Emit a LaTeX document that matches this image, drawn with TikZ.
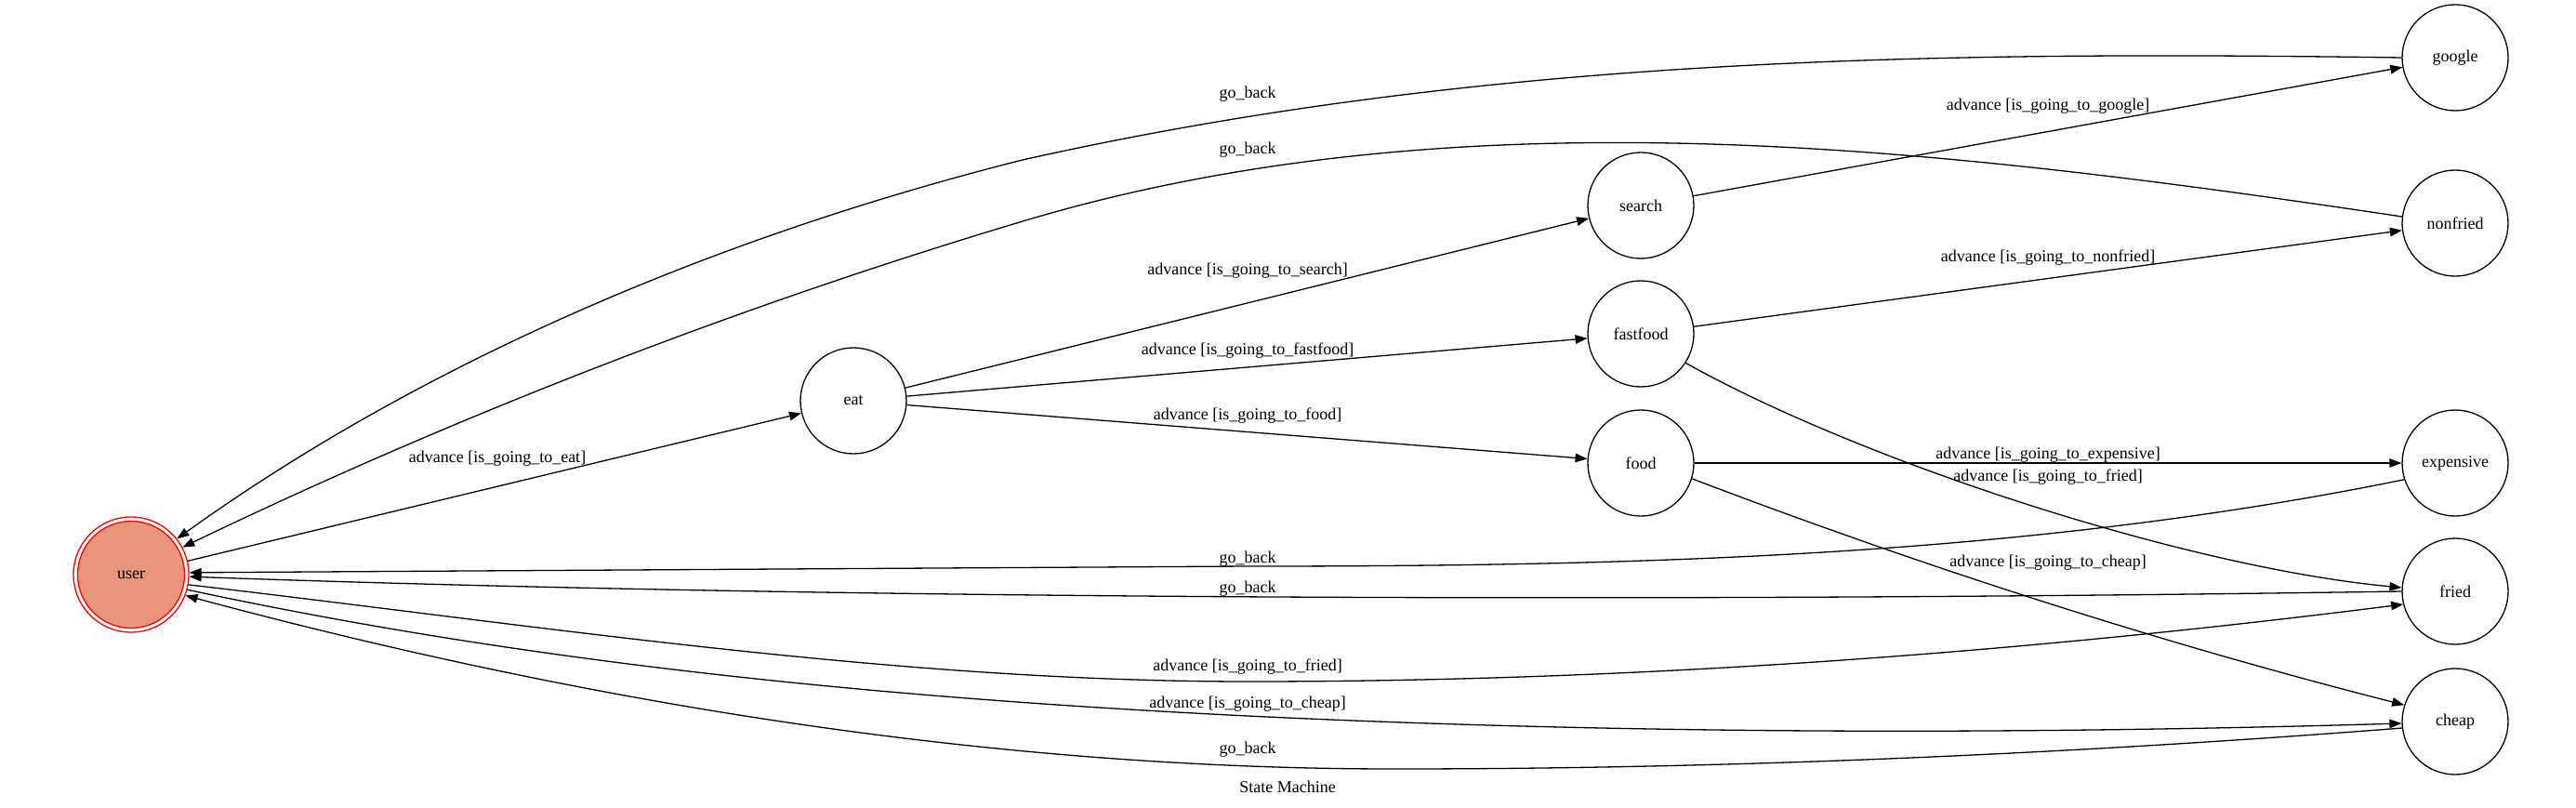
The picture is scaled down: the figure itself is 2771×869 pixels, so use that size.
\documentclass[tikz,border=0pt]{standalone}
\usepackage{fontspec}
\setmainfont{Liberation Serif}
\usetikzlibrary{arrows.meta}
\definecolor{usersalmon}{RGB}{233,150,122}
\begin{document}
\begin{tikzpicture}[x=1pt,y=-1pt,
  state/.style={circle, draw, line width=1.3pt, minimum size=114pt, inner sep=0pt, font=\fontsize{18}{20}\selectfont},
  edge/.style={line width=1.3pt, -{Triangle[length=13pt,width=9.5pt]}},
  lbl/.style={inner sep=0pt, text height=12.2pt, text depth=3.6pt, font=\fontsize{18}{20}\selectfont}]
\useasboundingbox (0,0) rectangle (2771,869);

% nodes
\node[state, draw=red, fill=usersalmon, minimum size=115pt] (userin) at (141,618) {user};
\node[circle, draw=red, line width=1.3pt, minimum size=124pt, inner sep=0pt] (user) at (141,618) {};
\node[state] (eat) at (918,431) {eat};
\node[state] (search) at (1765,221) {search};
\node[state] (fastfood) at (1765,359) {fastfood};
\node[state] (food) at (1765,498) {food};
\node[state] (google) at (2641,62) {google};
\node[state] (nonfried) at (2641,240) {nonfried};
\node[state] (expensive) at (2641,498) {expensive};
\node[state] (fried) at (2641,636) {fried};
\node[state] (cheap) at (2641,776) {cheap};

% straight advance edges
\draw[edge] (user) -- (eat);
\draw[edge] (eat) -- (search);
\draw[edge] (eat) -- (fastfood);
\draw[edge] (eat) -- (food);
\draw[edge] (search) -- (google);
\draw[edge] (fastfood) -- (nonfried);
\draw[edge] (food) -- (expensive);
\draw[edge] (fastfood.-33) .. controls (2000,495) and (2350,610) .. (fried.176);
\draw[edge] (food.-17.5) .. controls (2070,610) and (2326,692) .. (cheap.162.5);

% go_back edges
\draw[edge] (google.west) .. controls (2086,55) and (1600,60) .. (1100,172)
   .. controls (778,253) and (460,386) .. (user.38);
\draw[edge] (nonfried.173) .. controls (2094,160) and (1574,96) .. (1100,238)
   .. controls (792,330) and (489,448) .. (user.28);
\draw[edge] (expensive.198) .. controls (2178,599) and (1758,609) .. (1342,609) -- (user.2);
\draw[edge] (fried.west) .. controls (1800,648) and (900,645) .. (user.-2);
\draw[edge] (cheap.187) .. controls (2225,811) and (1862,827) .. (1500,827)
   .. controls (1064,827) and (626,755) .. (user.-21);

% user -> fried / cheap
\draw[edge] (user.-10) .. controls (583,673) and (962,733) .. (1344,733)
   .. controls (1759,733) and (2174,702) .. (fried.194);
\draw[edge] (user.-15) .. controls (578,715) and (960,751) .. (1342,770)
   .. controls (1757,790) and (2171,790) .. (cheap.182);

% labels
\node[lbl] (l1) at (1342,101) {go\_back};
\node[lbl] (l2) at (1342,161) {go\_back};
\node[lbl] (l3) at (2203,114) {advance [is\_going\_to\_google]};
\node[lbl] (l4) at (1342,291) {advance [is\_going\_to\_search]};
\node[lbl] (l5) at (2203,277) {advance [is\_going\_to\_nonfried]};
\node[lbl] (l6) at (1342,377) {advance [is\_going\_to\_fastfood]};
\node[lbl] (l7) at (1342,447) {advance [is\_going\_to\_food]};
\node[lbl] (l8) at (535,493) {advance [is\_going\_to\_eat]};
\node[lbl] (l9) at (2203,489) {advance [is\_going\_to\_expensive]};
\node[lbl] (l10) at (2203,513) {advance [is\_going\_to\_fried]};
\node[lbl] (l11) at (2203,605) {advance [is\_going\_to\_cheap]};
\node[lbl] (l12) at (1342,601) {go\_back};
\node[lbl] (l13) at (1342,633) {go\_back};
\node[lbl] (l14) at (1342,717) {advance [is\_going\_to\_fried]};
\node[lbl] (l15) at (1342,757) {advance [is\_going\_to\_cheap]};
\node[lbl] (l16) at (1342,806) {go\_back};
\node[lbl] (title) at (1385,848) {State Machine};
\end{tikzpicture}
\end{document}
